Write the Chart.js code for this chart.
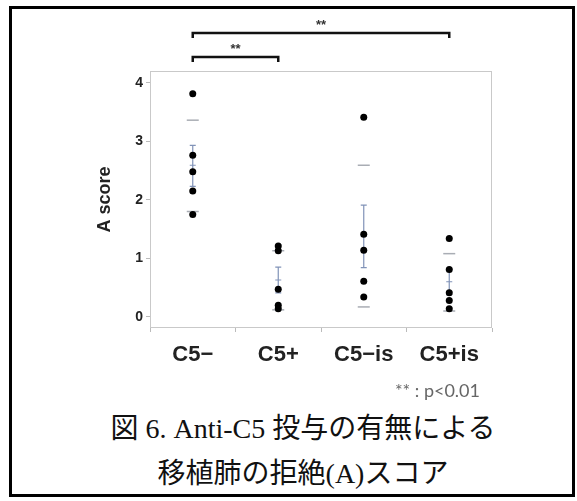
<!DOCTYPE html>
<html>
<head>
<meta charset="utf-8">
<script src="https://cdn.jsdelivr.net/npm/chart.js@4"></script>
<style>
  body { margin: 0; background: #fff; }
  #wrap { position: relative; width: 577px; height: 501px; overflow: hidden; }
  #frame { position: absolute; left: 9px; top: 6px; width: 566px; height: 491px; border: 3px solid #000; box-sizing: border-box; }
  #chart { position: absolute; left: 0; top: 0; }
  #note { position: absolute; left: 300px; width: 180px; top: 379px; text-align: right; font: 18px Lato, "Noto Sans", sans-serif; color: #666; }
  .cap { position: absolute; left: 0; width: 606px; text-align: center; font: 28px "Liberation Serif", "Noto Sans CJK JP", serif; color: #111; }
</style>
</head>
<body>
<div id="wrap">
  <div id="frame"></div>
  <canvas id="chart" width="577" height="400"></canvas>
  <div id="note">** : p&lt;0.01</div>
  <div class="cap" style="top:406px">図 6. Anti-C5 投与の有無による</div>
  <div class="cap" style="top:451px">移植肺の拒絶(A)スコア</div>
</div>
<script>
// groups and scores
const groups = ['C5−', 'C5+', 'C5−is', 'C5+is'];
const scoresC5minus = [3.81, 2.76, 2.48, 2.15, 1.75];
const scoresC5plus = [1.21, 1.13, 0.47, 0.20, 0.14];
const scoresC5minusIs = [3.41, 1.41, 1.14, 0.61, 0.34];
const scoresC5plusIs = [1.34, 0.81, 0.41, 0.28, 0.14];

// mean, mean +/- SD (gray dashes), mean +/- SEM (blue bars)
const meanValues = [2.59, 0.63, 1.38, 0.60];
const sdHigh = [3.36, 1.13, 2.59, 1.08];
const sdLow = [1.80, 0.12, 0.17, 0.10];
const semHigh = [2.93, 0.85, 1.91, 0.81];
const semLow = [2.23, 0.41, 0.84, 0.38];

const yTicks = [0, 1, 2, 3, 4];

// significance brackets: group index pairs
const comparisons = [
  {from: 0, to: 3, label: '**', y: 33},
  {from: 0, to: 1, label: '**', y: 57},
];

const allScores = [scoresC5minus, scoresC5plus, scoresC5minusIs, scoresC5plusIs];
let points = [];
allScores.forEach((arr, i) => {
  arr.forEach(v => points.push({x: groups[i], y: v}));
});

const extras = {
  id: 'extras',
  beforeDatasetsDraw(chart) {
    const ctx = chart.ctx;
    const a = chart.chartArea;
    const xs = chart.scales.x, ys = chart.scales.y;
    ctx.save();
    ctx.strokeStyle = '#c9c9c9';
    ctx.lineWidth = 1;
    ctx.strokeRect(a.left + 0.5, a.top + 0.5, a.right - a.left - 1, a.bottom - a.top - 1);

    for (let i = 0; i < groups.length; i++) {
      let cx = xs.getPixelForValue(i);
      // SD dashes
      ctx.strokeStyle = '#a9adb4';
      ctx.lineWidth = 1.5;
      [sdHigh[i], sdLow[i]].forEach(v => {
        let py = ys.getPixelForValue(v);
        ctx.beginPath();
        ctx.moveTo(cx - 6, py);
        ctx.lineTo(cx + 6, py);
        ctx.stroke();
      });
      // SEM bar
      ctx.strokeStyle = '#8193b8';
      ctx.lineWidth = 1.2;
      let top = ys.getPixelForValue(semHigh[i]);
      let bot = ys.getPixelForValue(semLow[i]);
      let mid = ys.getPixelForValue(meanValues[i]);
      ctx.beginPath();
      ctx.moveTo(cx, top); ctx.lineTo(cx, bot);
      ctx.moveTo(cx - 3, top); ctx.lineTo(cx + 3, top);
      ctx.moveTo(cx - 3, bot); ctx.lineTo(cx + 3, bot);
      ctx.moveTo(cx - 3, mid); ctx.lineTo(cx + 3, mid);
      ctx.stroke();
    }

    // brackets
    ctx.strokeStyle = '#111';
    ctx.lineWidth = 2.5;
    ctx.fillStyle = '#333';
    ctx.font = 'bold 13px "Liberation Sans", Arial';
    ctx.textAlign = 'center';
    ctx.textBaseline = 'middle';
    comparisons.forEach(c => {
      let x1 = xs.getPixelForValue(c.from);
      let x2 = xs.getPixelForValue(c.to);
      ctx.beginPath();
      ctx.moveTo(x1, c.y + 5);
      ctx.lineTo(x1, c.y);
      ctx.lineTo(x2, c.y);
      ctx.lineTo(x2, c.y + 5);
      ctx.stroke();
      ctx.fillText(c.label, (x1 + x2) / 2, c.y - 8);
    });
    ctx.restore();
  }
};

new Chart(document.getElementById('chart'), {
  type: 'line',
  data: {
    labels: groups,
    datasets: [{
      data: points,
      showLine: false,
      pointRadius: 3.5,
      pointHoverRadius: 3.5,
      pointBackgroundColor: '#000',
      pointBorderWidth: 0,
    }]
  },
  options: {
    responsive: false,
    animation: false,
    layout: {padding: {left: 90, right: 85, top: 71, bottom: 0}},
    plugins: {legend: {display: false}, tooltip: {enabled: false}},
    scales: {
      x: {
        type: 'category',
        offset: true,
        border: {display: false},
        grid: {offset: true, drawOnChartArea: false, drawTicks: true, tickLength: 4, color: '#bbb'},
        ticks: {padding: 10, color: '#222', font: {family: '"Liberation Sans", Arial', size: 22, weight: 'bold'}},
        afterFit(scale) { scale.height = 72; }
      },
      y: {
        min: -0.19,
        max: 4.2,
        border: {display: false},
        grid: {drawOnChartArea: false, drawTicks: true, tickLength: 4, color: '#bbb'},
        ticks: {padding: 3, color: '#222', font: {family: '"Liberation Sans", Arial', size: 14, weight: 'bold'}},
        afterBuildTicks(scale) { scale.ticks = yTicks.map(v => ({value: v})); },
        title: {display: true, text: 'A score', color: '#222', font: {family: '"Liberation Sans", Arial', size: 18, weight: 'bold'}},
        afterFit(scale) { scale.width = 60; }
      }
    }
  },
  plugins: [extras]
});
</script>
</body>
</html>
